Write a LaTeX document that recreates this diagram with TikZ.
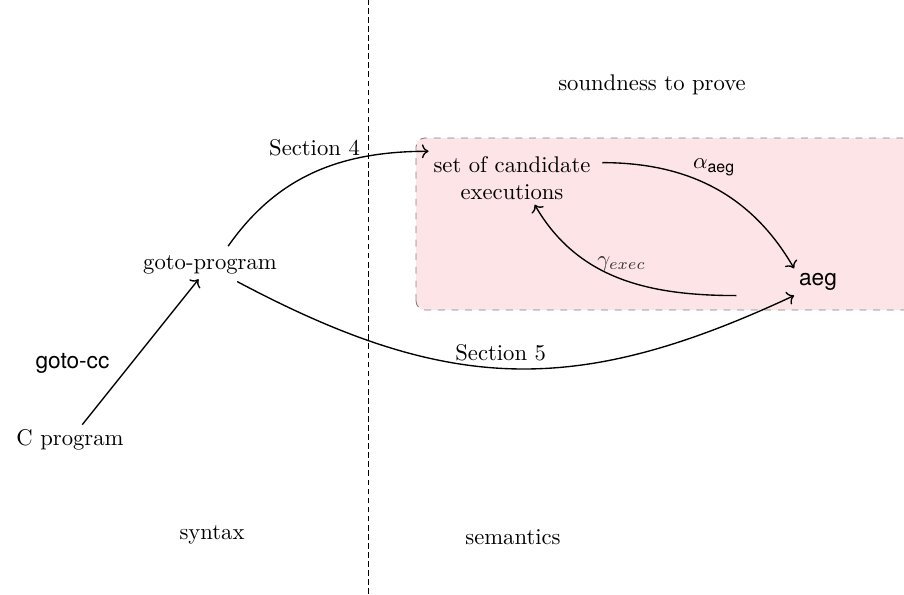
\documentclass[tikz,border=0pt]{standalone}
\usepackage{amsmath,amssymb}
\usepackage{fontspec}
\setsansfont{TeX Gyre Heros}
\usepackage{xcolor}
\usepackage{tikz}
\usetikzlibrary{arrows.meta,positioning,calc,backgrounds}
\definecolor{proofpink}{RGB}{253,228,230}
\tikzset{
  lbl/.style={font=\normalsize,align=center,inner sep=2pt},
  slbl/.style={font=\sffamily,inner sep=2pt},
  arr/.style={->,semithick},
  region/.style={draw=black!50,dashed,fill=proofpink,rounded corners=4pt},
  divider/.style={thin,dash pattern=on 2.5pt off 1.5pt},
}

\begin{document}
\begin{tikzpicture}[x=0.0155cm,y=0.0155cm]
\useasboundingbox (0,0) rectangle (904,594);
% soundness region
\draw[region] (416,284) rectangle (915,456);
\draw[divider] (368,0) -- (368,594);
% nodes
\node[lbl] (cprog) at (70,154) {C program};
\node[lbl] (gotoprog) at (210,329) {goto-program};
\node[lbl] (cands) at (512,416) {set of candidate\\executions};
\node[slbl] (aeg) at (818,312) {aeg};
\node[lbl] at (652,509) {soundness to prove};
\node[lbl] at (212,59) {syntax};
\node[lbl] at (513,57) {semantics};
% connectors
\draw[arr] (cprog) -- node[slbl,left=4mm,yshift=-5pt]{goto-cc} (gotoprog);
\draw[arr] ([xshift=8pt,yshift=2pt]gotoprog.north) to[out=55,in=180]
  node[lbl,pos=0.5,above=5pt]{Section 4} (cands.north west);
\draw[arr] ([xshift=12pt,yshift=-1pt]gotoprog.south) to[out=-28,in=205,looseness=1.1]
  node[lbl,pos=0.475,above=1pt]{Section 5} (aeg.south west);
\draw[arr] ([xshift=3pt,yshift=-5pt]cands.north east) to[out=0,in=120]
  node[lbl,pos=0.5,above=3pt]{$\alpha_{\textsf{aeg}}$} (aeg.north west);
\draw[arr] ([xshift=-36pt]aeg.south) to[out=180,in=-60]
  node[lbl,pos=0.5,above=1pt,xshift=1pt,text=black!80]{$\gamma_{exec}$} ([xshift=10pt]cands.south);
\end{tikzpicture}
\end{document}
